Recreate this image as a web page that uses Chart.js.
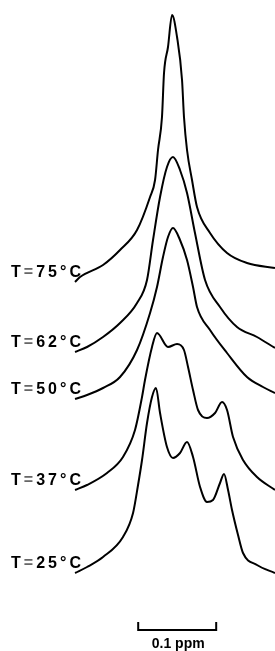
<!DOCTYPE html>
<html>
<head>
<meta charset="utf-8">
<script src="https://cdn.jsdelivr.net/npm/chart.js@4/dist/chart.umd.min.js"></script>
<style>
  html, body { margin: 0; padding: 0; background: #fff; }
  #wrap { width: 275px; height: 651px; }
</style>
</head>
<body>
<div id="wrap"><canvas id="c" width="275" height="651"></canvas></div>
<script>
// temperatures, top trace first
const temps = ['75', '62', '50', '37', '25'];
// vertical stacking offset of each trace (arbitrary intensity units)
const offsets = [369, 299, 252, 161, 78];

// chemical shift (ppm, relative to left end of traces) and intensity for each trace
const shift75 = [0, 0.0064, 0.0359, 0.0577, 0.0795, 0.0962, 0.1026, 0.1064, 0.1115, 0.1141, 0.1192, 0.1244, 0.1308, 0.1372, 0.1397, 0.1436, 0.1500, 0.1564, 0.1731, 0.1949, 0.2205, 0.2564];
const int75   = [0, 5, 17, 32, 52, 85, 102, 132, 165, 209, 235, 267, 245, 202, 165, 132, 102, 75, 49, 29, 19, 14];

const shift62 = [0, 0.0154, 0.0359, 0.0577, 0.0795, 0.0923, 0.1000, 0.1090, 0.1179, 0.1256, 0.1346, 0.1436, 0.1538, 0.1667, 0.1859, 0.2077, 0.2333, 0.2564];
const int62   = [0, 5, 15, 29, 49, 72, 112, 155, 185, 195, 182, 159, 119, 72, 45, 25, 15, 4];

const shift50 = [0, 0.0154, 0.0359, 0.0577, 0.0795, 0.0962, 0.1051, 0.1128, 0.1192, 0.1256, 0.1346, 0.1436, 0.1513, 0.1564, 0.1731, 0.1949, 0.2205, 0.2410, 0.2564];
const int50   = [0, 4, 11, 22, 49, 86, 112, 142, 162, 171, 159, 139, 112, 92, 69, 46, 22, 12, 6];

const shift37 = [0, 0.0154, 0.0410, 0.0615, 0.0769, 0.0859, 0.0897, 0.0987, 0.1051, 0.1192, 0.1308, 0.1397, 0.1449, 0.1513, 0.1577, 0.1692, 0.1795, 0.1885, 0.1949, 0.2026, 0.2154, 0.2333, 0.2564];
const int37   = [0, 5, 17, 33, 60, 93, 110, 143, 157, 143, 146, 140, 123, 100, 80, 72, 77, 88, 80, 53, 30, 13, 0];

const shift25 = [0, 0.0154, 0.0359, 0.0615, 0.0744, 0.0808, 0.0859, 0.0923, 0.0987, 0.1038, 0.1090, 0.1179, 0.1256, 0.1346, 0.1436, 0.1513, 0.1603, 0.1692, 0.1769, 0.1859, 0.1910, 0.1962, 0.2013, 0.2090, 0.2154, 0.2333, 0.2564];
const int25   = [0, 6, 16, 36, 60, 88, 113, 150, 176, 185, 160, 126, 115, 120, 131, 116, 86, 71, 73, 90, 99, 83, 63, 38, 20, 8, 0];

const shifts = [shift75, shift62, shift50, shift37, shift25];
const intensities = [int75, int62, int50, int37, int25];

// scale bar
const barStart = 0.081;
const barLength = 0.1;
const barLabel = '0.1 ppm';

const datasets = temps.map((t, i) => ({
    label: 'T=' + t + '°C',
    data: shifts[i].map((x, j) => ({ x: x, y: offsets[i] + intensities[i][j] })),
    borderColor: '#000',
    borderWidth: 2,
    pointRadius: 0,
    fill: false,
    cubicInterpolationMode: 'monotone'
}));

// draw a string char by char so it spans from x0 to x1
function spreadText(ctx, str, x0, x1, y) {
    const chars = str.split('');
    const widths = chars.map(ch => ctx.measureText(ch).width);
    const total = widths.reduce((a, b) => a + b, 0);
    const gap = (x1 - x0 - total) / (chars.length - 1);
    let x = x0;
    chars.forEach((ch, k) => {
        ctx.fillStyle = ch === '=' ? '#666' : '#000';
        ctx.fillText(ch, x, y);
        x += widths[k] + gap;
    });
}

// trace labels and the ppm scale bar
const annotate = {
    id: 'annotate',
    afterDatasetsDraw(chart) {
        const ctx = chart.ctx;
        const xs = chart.scales.x, ys = chart.scales.y;
        ctx.save();
        ctx.font = 'bold 16px "Liberation Sans", Arial, sans-serif';
        ctx.textBaseline = 'middle';
        ctx.textAlign = 'left';
        const lx0 = xs.getPixelForValue(-0.0821);
        const lx1 = xs.getPixelForValue(0.0077);
        temps.forEach((t, i) => {
            const y = ys.getPixelForValue(offsets[i] + 9);
            spreadText(ctx, 'T=' + t + '°C', lx0, lx1, y);
        });

        const x0 = xs.getPixelForValue(barStart);
        const x1 = xs.getPixelForValue(barStart + barLength);
        const yb = ys.getPixelForValue(21);
        ctx.strokeStyle = '#000';
        ctx.lineWidth = 2;
        ctx.beginPath();
        ctx.moveTo(x0, yb - 8);
        ctx.lineTo(x0, yb);
        ctx.lineTo(x1, yb);
        ctx.lineTo(x1, yb - 8);
        ctx.stroke();
        ctx.fillStyle = '#000';
        ctx.font = 'bold 14px "Liberation Sans", Arial, sans-serif';
        ctx.textAlign = 'center';
        ctx.textBaseline = 'alphabetic';
        ctx.fillText(barLabel, (x0 + x1) / 2 + 1, ys.getPixelForValue(3));
        ctx.restore();
    }
};

new Chart(document.getElementById('c'), {
    type: 'line',
    data: { datasets },
    options: {
        responsive: false,
        devicePixelRatio: 1,
        animation: false,
        layout: { padding: 0 },
        plugins: { legend: { display: false }, tooltip: { enabled: false } },
        scales: {
            x: { type: 'linear', display: false, min: -0.0962, max: 0.2564 },
            y: { type: 'linear', display: false, min: 0, max: 651 }
        }
    },
    plugins: [annotate]
});
</script>
</body>
</html>
